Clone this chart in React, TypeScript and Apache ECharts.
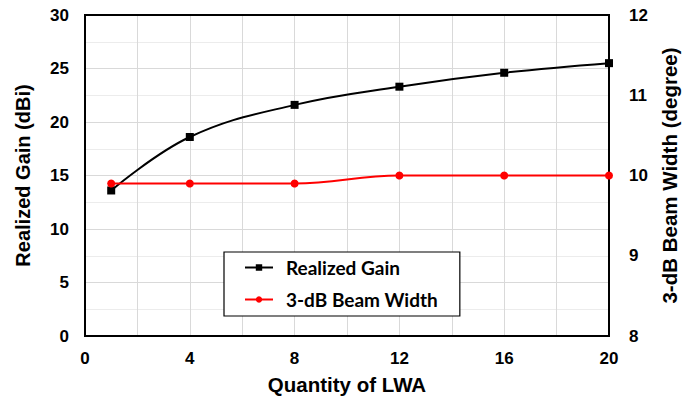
import React, { useEffect, useRef } from "react";
import * as echarts from "echarts";

// Number of leaky-wave antennas in the array
const quantity = [1, 4, 8, 12, 16, 20];
// Realized gain (dBi)
const realizedGain = [13.6, 18.6, 21.6, 23.3, 24.6, 25.5];
// 3-dB beam width (degree)
const beamWidth = [9.9, 9.9, 9.9, 10.0, 10.0, 10.0];

const tickFont = "Liberation Sans, Arial, sans-serif";
const legendFont = "Lato, Liberation Sans, sans-serif";

export default function App() {
  const ref = useRef<HTMLDivElement>(null);

  useEffect(() => {
    document.body.style.margin = "0";
    if (!ref.current) return;
    const chart = echarts.init(ref.current, undefined, { renderer: "svg" });

    const tickLabel = {
      fontFamily: tickFont,
      fontWeight: "bold" as const,
      fontSize: 17,
      color: "#000",
    };
    const axisName = {
      fontFamily: tickFont,
      fontWeight: "bold" as const,
      fontSize: 20,
      color: "#000",
    };

    chart.setOption({
      animation: false,
      backgroundColor: "#fff",
      grid: {
        left: 85,
        right: 83,
        top: 15,
        bottom: 63,
        show: true,
        borderColor: "#000",
        borderWidth: 2,
        z: 3,
      },
      legend: {
        orient: "vertical",
        left: 224,
        top: 252,
        padding: [6, 22, 7, 20],
        itemGap: 13,
        itemWidth: 28,
        itemHeight: 8,
        borderColor: "#000",
        borderWidth: 1.2,
        backgroundColor: "#fff",
        textStyle: {
          fontFamily: legendFont,
          fontWeight: "bold",
          fontSize: 19,
          color: "#000",
          padding: [0, 0, 0, 8],
        },
        data: ["Realized Gain", "3-dB Beam Width"],
      },
      xAxis: {
        type: "value",
        min: 0,
        max: 20,
        interval: 2,
        name: "Quantity of LWA",
        nameLocation: "middle",
        nameGap: 38,
        nameTextStyle: { ...axisName, fontSize: 20.5 },
        axisLine: { show: true, lineStyle: { color: "#000", width: 2 } },
        axisTick: { show: false },
        axisLabel: {
          ...tickLabel,
          margin: 14,
          formatter: (v: number) => (v % 4 === 0 ? String(v) : ""),
        },
        splitLine: { show: true, lineStyle: { color: "#d9d9d9", width: 1 } },
      },
      yAxis: [
        {
          type: "value",
          min: 0,
          max: 30,
          interval: 5,
          name: "Realized Gain (dBi)",
          nameLocation: "middle",
          nameGap: 52,
          nameTextStyle: axisName,
          axisLine: { show: true, lineStyle: { color: "#000", width: 2 } },
          axisTick: { show: false },
          axisLabel: { ...tickLabel, margin: 16 },
          splitLine: { show: true, lineStyle: { color: "#d9d9d9", width: 1 } },
          minorTick: { show: false, splitNumber: 2 },
          minorSplitLine: { show: true, lineStyle: { color: "#ececec", width: 1 } },
        },
        {
          type: "value",
          min: 8,
          max: 12,
          interval: 1,
          name: "3-dB Beam Width (degree)",
          nameLocation: "middle",
          nameGap: 50,
          nameTextStyle: { ...axisName, fontSize: 20.5 },
          axisLine: { show: true, lineStyle: { color: "#000", width: 2 } },
          axisTick: { show: false },
          axisLabel: { ...tickLabel, margin: 20 },
          splitLine: { show: false },
        },
      ],
      series: [
        {
          name: "Realized Gain",
          type: "line",
          yAxisIndex: 0,
          smooth: 0.4,
          symbol: "rect",
          symbolSize: 8,
          lineStyle: { color: "#000", width: 2 },
          itemStyle: { color: "#000" },
          data: quantity.map((q, i) => [q, realizedGain[i]]),
          z: 5,
        },
        {
          name: "3-dB Beam Width",
          type: "line",
          yAxisIndex: 1,
          smooth: 0.4,
          symbol: "circle",
          symbolSize: 8,
          lineStyle: { color: "#ff0000", width: 2 },
          itemStyle: { color: "#ff0000" },
          data: quantity.map((q, i) => [q, beamWidth[i]]),
          z: 5,
        },
      ],
    });

    return () => chart.dispose();
  }, []);

  return <div ref={ref} style={{ width: 692, height: 400 }} />;
}
